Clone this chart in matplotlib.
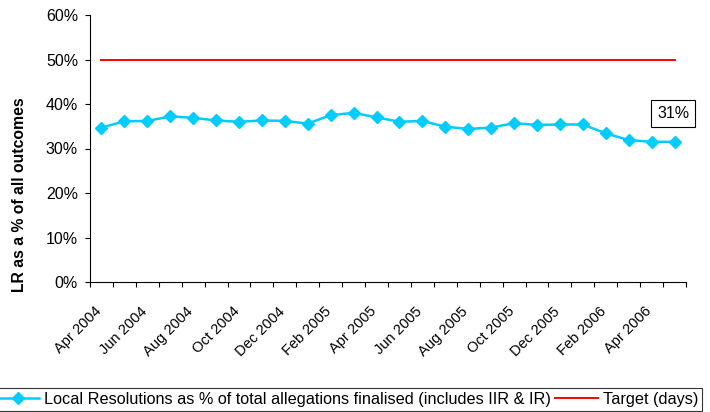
import matplotlib.pyplot as plt
from matplotlib.ticker import FixedLocator, FuncFormatter
from matplotlib.transforms import ScaledTranslation

plt.rcParams["font.family"] = ["Liberation Sans", "DejaVu Sans"]

months = [
    "Apr 2004", "May 2004", "Jun 2004", "Jul 2004", "Aug 2004", "Sep 2004",
    "Oct 2004", "Nov 2004", "Dec 2004", "Jan 2005", "Feb 2005", "Mar 2005",
    "Apr 2005", "May 2005", "Jun 2005", "Jul 2005", "Aug 2005", "Sep 2005",
    "Oct 2005", "Nov 2005", "Dec 2005", "Jan 2006", "Feb 2006", "Mar 2006",
    "Apr 2006", "May 2006",
]
lr_pct = [
    34.7, 36.1, 36.2, 37.2, 36.9, 36.3, 36.0, 36.3, 36.2, 35.6, 37.5, 38.0,
    37.0, 36.0, 36.2, 34.9, 34.4, 34.7, 35.7, 35.3, 35.4, 35.4, 33.4, 31.9,
    31.5, 31.5,
]
target = [50] * len(months)

x = list(range(len(months)))

fig = plt.figure(figsize=(7.1, 4.12), dpi=100)
ax = fig.add_axes([90 / 710, 1 - 282 / 412, 596 / 710, 267 / 412])

ax.plot(x, lr_pct, color="#00CCFF", lw=1.8, marker="D", markersize=5.8,
        label="Local Resolutions as % of total allegations finalised (includes IIR & IR)")
ax.plot(x, target, color="#FF0000", lw=1.4, label="Target (days)")

ax.annotate("31%", (x[-1], lr_pct[-1]), xytext=(-1, 20.5), textcoords="offset points",
            ha="center", va="center", fontsize=11.5,
            bbox=dict(boxstyle="square,pad=0.38", fc="white", ec="black", lw=0.8))

ax.set_ylim(0, 60)
ax.set_yticks(range(0, 61, 10))
ax.yaxis.set_major_formatter(FuncFormatter(lambda v, p: f"{int(v)}%"))
ax.set_ylabel("LR as a % of all outcomes", fontsize=11.3, fontweight="bold")
ax.yaxis.set_label_coords(-0.105, 0.326)

ax.set_xlim(-0.5, len(months) - 0.5)
ax.xaxis.set_major_locator(FixedLocator([i - 0.5 for i in range(len(months) + 1)]))
ax.xaxis.set_major_formatter(FuncFormatter(lambda v, p: ""))
ax.set_xticks(x[::2], minor=True)
ax.set_xticklabels(months[::2], minor=True, rotation=45, ha="right",
                   rotation_mode="anchor", fontsize=10.5)
ax.tick_params(axis="x", which="minor", length=0, pad=16)
ax.tick_params(axis="x", which="major", length=3.6, direction="out")
ax.tick_params(axis="y", length=3.6, direction="out", labelsize=11.5, pad=5)

shift = ScaledTranslation(-7 / 100, 0, fig.dpi_scale_trans)
for lab in ax.get_xticklabels(minor=True):
    lab.set_transform(lab.get_transform() + shift)

for side in ["top", "right"]:
    ax.spines[side].set_visible(False)

leg = fig.legend(loc="lower right", bbox_to_anchor=(702 / 710, 1 / 412), ncol=2,
                 fontsize=11.7, frameon=True, fancybox=False, edgecolor="black",
                 handlelength=2.6, columnspacing=0.3, handletextpad=0.3,
                 borderpad=0.25, borderaxespad=0)
leg.get_frame().set_linewidth(0.8)

plt.savefig("out.png", dpi=100)
plt.close()
